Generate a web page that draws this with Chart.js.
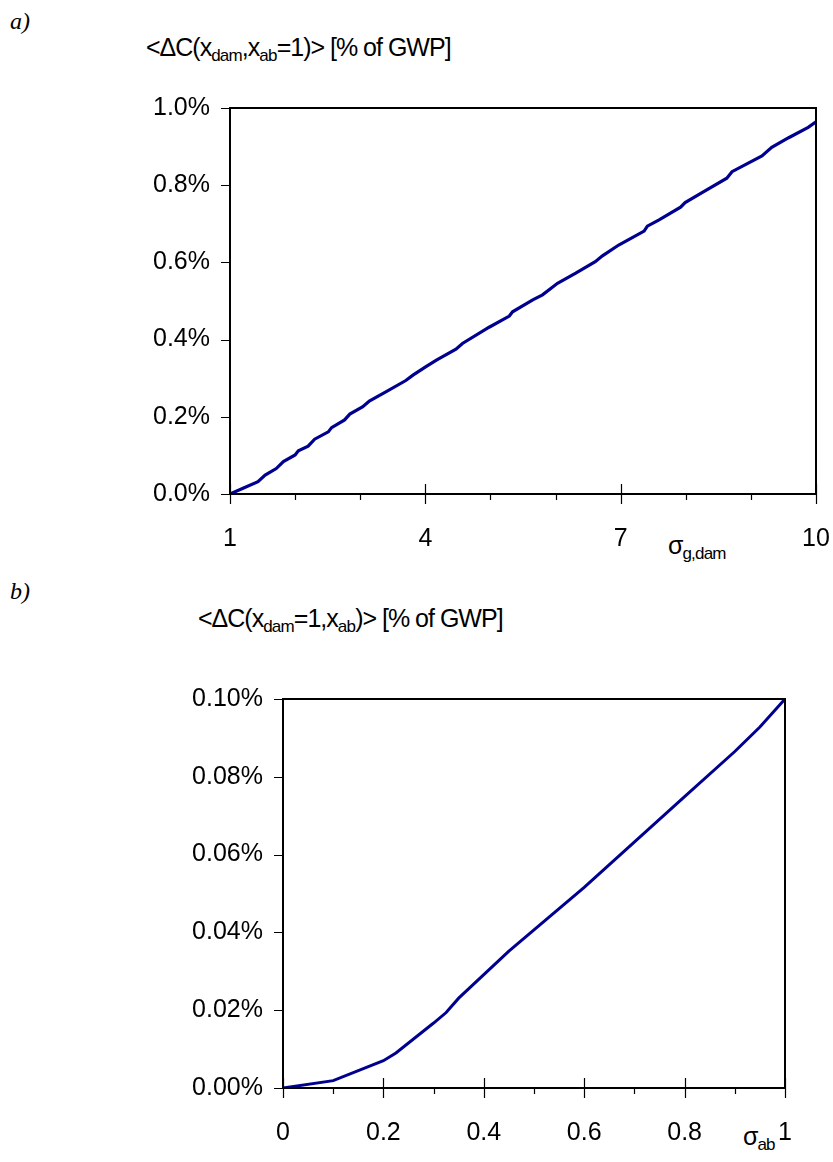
<!DOCTYPE html>
<html>
<head>
<meta charset="utf-8">
<script src="https://cdn.jsdelivr.net/npm/chart.js@4"></script>
<style>
  body { margin: 0; background: #fff; width: 833px; height: 1162px; position: relative; overflow: hidden; }
  .lbl { position: absolute; font-family: "Liberation Sans", Arial, sans-serif; font-size: 25px; color: #000; white-space: nowrap; letter-spacing: -1px; }
  .lbl sub { font-size: 17px; vertical-align: -5px; letter-spacing: -0.8px; }
  .part { position: absolute; font-family: "Liberation Serif", "Times New Roman", serif; font-style: italic; font-size: 24px; }
  canvas { position: absolute; left: 0; }
</style>
</head>
<body>
<div class="part" style="left:10px; top:8px;">a)</div>
<div class="lbl" style="left:146px; top:33px;">&lt;&Delta;C(x<sub>dam</sub>,x<sub>ab</sub>=1)&gt; [% of GWP]</div>
<div class="lbl" style="left:668px; top:531px;">&sigma;<sub>g,dam</sub></div>

<div class="part" style="left:10px; top:578px;">b)</div>
<div class="lbl" style="left:198px; top:604px;">&lt;&Delta;C(x<sub>dam</sub>=1,x<sub>ab</sub>)&gt; [% of GWP]</div>
<div class="lbl" style="left:743px; top:1122px;">&sigma;<sub>ab</sub></div>

<canvas id="chartA" style="top:0px;" width="833" height="580"></canvas>
<canvas id="chartB" style="top:580px;" width="833" height="582"></canvas>

<script>
// a) sigma_g,dam vs <dC> in % of GWP
const sigmaDam = [1, 1.2, 1.43, 1.54, 1.71, 1.82, 2.0, 2.05, 2.2, 2.3, 2.51, 2.56, 2.76, 2.84, 3.04, 3.14, 3.4, 3.7, 3.81, 4.01, 4.17, 4.47, 4.57, 4.98, 5.29, 5.34, 5.65, 5.8, 6.03, 6.31, 6.61, 6.72, 6.97, 7.36, 7.41, 7.59, 7.92, 7.99, 8.25, 8.63, 8.71, 9.17, 9.32, 9.58, 9.88, 10];
const costDam = [0, 0.015, 0.032, 0.049, 0.066, 0.084, 0.101, 0.112, 0.124, 0.142, 0.161, 0.172, 0.192, 0.207, 0.226, 0.241, 0.265, 0.294, 0.308, 0.330, 0.347, 0.375, 0.390, 0.432, 0.461, 0.472, 0.503, 0.516, 0.546, 0.572, 0.602, 0.617, 0.645, 0.681, 0.694, 0.710, 0.743, 0.755, 0.781, 0.818, 0.835, 0.876, 0.898, 0.923, 0.950, 0.964];
const xMajorA = [1, 4, 7, 10];
const xMinorA = [2, 3, 5, 6, 8, 9];
const yTicksA = [0, 0.2, 0.4, 0.6, 0.8, 1.0];

// b) sigma_ab vs <dC> in % of GWP
const sigmaAb = [0, 0.1, 0.2, 0.225, 0.3, 0.325, 0.35, 0.45, 0.6, 0.8, 0.9, 0.95, 1];
const costAb = [0, 0.0019, 0.0070, 0.0090, 0.0167, 0.0194, 0.0231, 0.0352, 0.0516, 0.0749, 0.0865, 0.0928, 0.1];
const xMajorB = [0, 0.2, 0.4, 0.6, 0.8, 1];
const xMinorB = [0.1, 0.3, 0.5, 0.7, 0.9];
const yTicksB = [0, 0.02, 0.04, 0.06, 0.08, 0.1];

const FONT = "'Liberation Sans', Arial, sans-serif";
const LINE = '#000090';

// box + tick marks (major ticks cross the axis, minor only below)
const frameTicks = {
    id: 'frameTicks',
    afterDraw(chart, args, opts) {
        const ctx = chart.ctx;
        const a = chart.chartArea;
        const xs = chart.scales.x, ys = chart.scales.y;
        ctx.save();
        ctx.strokeStyle = '#000';
        ctx.lineWidth = 2;
        ctx.strokeRect(a.left, a.top, a.right - a.left, a.bottom - a.top);
        ctx.lineWidth = 1.2;
        ctx.beginPath();
        opts.yTicks.forEach(v => {
            const y = Math.round(ys.getPixelForValue(v)) + 0.5;
            ctx.moveTo(a.left - 9, y); ctx.lineTo(a.left, y);
        });
        opts.major.forEach(v => {
            const x = Math.round(xs.getPixelForValue(v)) + 0.5;
            ctx.moveTo(x, a.bottom - 10); ctx.lineTo(x, a.bottom + 10);
        });
        opts.minor.forEach(v => {
            const x = Math.round(xs.getPixelForValue(v)) + 0.5;
            ctx.moveTo(x, a.bottom); ctx.lineTo(x, a.bottom + 6);
        });
        ctx.stroke();
        ctx.restore();
    }
};

function makeChart(id, xData, yData, cfg) {
    const pts = xData.map((x, i) => ({ x: x, y: yData[i] }));
    return new Chart(document.getElementById(id), {
        type: 'line',
        data: {
            datasets: [{
                data: pts,
                borderColor: LINE,
                borderWidth: cfg.lineWidth,
                pointRadius: 0,
                tension: 0,
                fill: false
            }]
        },
        options: {
            responsive: false,
            animation: false,
            events: [],
            layout: { padding: { left: 0, top: cfg.top, right: cfg.right, bottom: 0 } },
            plugins: {
                legend: { display: false },
                tooltip: { enabled: false },
                frameTicks: { major: cfg.major, minor: cfg.minor, yTicks: cfg.yTicks }
            },
            scales: {
                x: {
                    type: 'linear',
                    min: cfg.xMin, max: cfg.xMax,
                    afterBuildTicks: s => { s.ticks = cfg.major.map(v => ({ value: v })); },
                    afterFit: s => { s.height = cfg.xHeight; s.paddingLeft = 0; s.paddingRight = 0; },
                    grid: { display: false, drawTicks: false },
                    border: { display: false },
                    ticks: {
                        color: '#000',
                        font: { family: FONT, size: 25 },
                        padding: 30,
                        maxRotation: 0,
                        autoSkip: false,
                        callback: v => String(v)
                    }
                },
                y: {
                    type: 'linear',
                    min: 0, max: cfg.yMax,
                    afterBuildTicks: s => { s.ticks = cfg.yTicks.map(v => ({ value: v })); },
                    afterFit: s => { s.width = cfg.yWidth; s.paddingTop = 0; s.paddingBottom = 0; },
                    grid: { display: false, drawTicks: false },
                    border: { display: false },
                    ticks: {
                        color: '#000',
                        font: { family: FONT, size: 25 },
                        padding: 20,
                        callback: v => v.toFixed(cfg.dec) + '%'
                    }
                }
            }
        },
        plugins: [frameTicks]
    });
}

makeChart('chartA', sigmaDam, costDam, {
    top: 108, right: 17, xHeight: 86, yWidth: 230,
    xMin: 1, xMax: 10, yMax: 1.0, dec: 1, lineWidth: 3.2,
    major: xMajorA, minor: xMinorA, yTicks: yTicksA
});

makeChart('chartB', sigmaAb, costAb, {
    top: 119, right: 48, xHeight: 74, yWidth: 283,
    xMin: 0, xMax: 1, yMax: 0.1, dec: 2, lineWidth: 3,
    major: xMajorB, minor: xMinorB, yTicks: yTicksB
});
</script>
</body>
</html>
